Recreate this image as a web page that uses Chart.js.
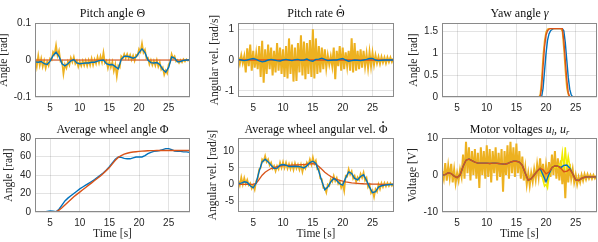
<!DOCTYPE html>
<html><head><meta charset="utf-8">
<script src="https://cdn.jsdelivr.net/npm/chart.js@4.4.1/dist/chart.umd.min.js"></script>
<style>
html,body{margin:0;padding:0;background:#fff;width:598px;height:242px;overflow:hidden;}
.p{position:absolute;}
</style></head><body>
<script>
// ---------------- DATA ----------------
const xTicks = [5, 10, 15, 20, 25];
const tFine = Array.from({length: 105}, (_, i) => 2.5 + 0.25 * i);   // 2.5 .. 28.5
const tCoarse = Array.from({length: 53}, (_, i) => 2.5 + 0.5 * i);   // 2.5 .. 28.5
const tRef = [2.5, 28.6];

// Pitch angle
const thetaRef = [0, 0];
const thetaMeas = [
  0.005, -0.018, 0.012, -0.015,
  0.004, -0.018, -0.002, -0.022,
  -0.004, -0.015, 0.004, 0.000,
  0.022, 0.015, 0.040, 0.012,
  0.025, -0.004, -0.002, -0.038,
  -0.012, -0.022, -0.004, -0.014,
  0.006, -0.006, 0.008, -0.010,
  -0.002, -0.018, -0.004, -0.016,
  -0.002, -0.015, -0.001, -0.016,
  0.000, -0.014, 0.004, -0.014,
  0.002, -0.010, 0.008, -0.008,
  0.010, -0.006, 0.020, -0.008,
  -0.002, -0.022, -0.004, -0.020,
  -0.005, -0.030, -0.012, -0.045,
  -0.015, -0.020, 0.010, 0.004,
  0.016, 0.005, 0.016, 0.004,
  0.014, 0.000, 0.012, -0.002,
  0.014, 0.012, 0.030, 0.022,
  0.045, 0.020, 0.028, 0.004,
  0.006, -0.012, 0.000, -0.014,
  -0.002, -0.015, 0.000, -0.018,
  -0.006, -0.026, -0.020, -0.040,
  -0.028, -0.036, -0.012, -0.006,
  0.016, 0.004, 0.010, -0.004,
  0.000, -0.008, 0.000, -0.006,
  0.002, -0.004, 0.002, -0.002,
  0.001
];
const thetaFilt = [
  -0.005, -0.006, -0.004, -0.010, -0.012, -0.003, 0.012, 0.021, 0.010, -0.010,
  -0.016, -0.010, -0.002, 0.001, -0.008, -0.010, -0.009, -0.008, -0.008, -0.006,
  -0.006, -0.003, -0.001, 0.000, -0.010, -0.013, -0.012, -0.018, -0.024, 0.002,
  0.010, 0.010, 0.008, 0.005, 0.008, 0.020, 0.030, 0.020, 0.000, -0.007,
  -0.008, -0.007, -0.012, -0.025, -0.033, -0.020, 0.008, 0.005, -0.005, -0.004,
  -0.001, 0.000, 0.000
];

// Pitch rate
const rateRef = [0, 0];
const rateMeas = [
  0.10, -0.12, 0.15, -0.10,
  0.12, -0.40, 0.38, -0.20,
  0.50, -0.35, 0.30, -0.25,
  0.20, -0.30, 0.45, -0.55,
  0.62, -0.74, 0.35, -0.45,
  0.50, -0.30, 0.40, -0.50,
  0.30, -0.40, 0.55, -0.35,
  0.40, -0.45, 0.35, -0.55,
  0.45, -0.60, 0.70, -0.45,
  0.50, -0.70, 0.40, -0.68,
  0.55, -0.40, 0.80, -0.50,
  0.60, -0.62, 0.55, -0.45,
  0.65, -0.55, 1.00, -0.60,
  0.70, -0.45, 0.45, -0.40,
  0.40, -0.30, 0.35, -0.25,
  0.15, -0.15, 0.12, -0.20,
  0.40, -0.62, 0.30, -0.20,
  0.45, -0.35, 0.40, -0.30,
  0.25, -0.20, 0.30, -0.35,
  0.70, -0.40, 0.55, -0.35,
  0.30, -0.30, 0.35, -0.25,
  0.30, -0.20, 0.20, -0.25,
  0.25, -0.20, 0.22, -0.15,
  0.15, -0.10, 0.10, -0.12,
  0.10, -0.08, 0.08, -0.10,
  0.08, -0.06, 0.08, -0.06,
  0.05
];
const rateFilt = [
  0.02, 0.00, -0.02, 0.00, 0.03, 0.05, 0.02, -0.03, -0.06, -0.04,
  0.00, 0.02, 0.00, -0.02, -0.03, 0.00, 0.02, 0.00, -0.02, 0.01,
  0.02, -0.01, 0.00, 0.03, -0.02, -0.04, 0.02, 0.03, 0.06, 0.02,
  -0.02, -0.01, 0.00, 0.00, 0.03, 0.05, 0.00, -0.04, -0.02, 0.00,
  -0.01, -0.02, 0.00, 0.02, 0.05, 0.05, 0.00, -0.02, -0.01, 0.00,
  0.00, 0.00, 0.00
];

// Yaw angle
const yawT    = [2.5, 18.75, 19.0, 19.25, 19.5, 19.75, 20.0, 20.25, 20.5, 20.75, 21.0, 21.25, 22.5, 22.75, 23.0, 23.25, 23.5, 23.75, 24.0, 24.25, 24.5, 24.75, 25.0, 28.6];
const yawRef  = [0, 0, 0, 0.2, 0.7, 1.15, 1.42, 1.52, 1.56, 1.57, 1.57, 1.57, 1.57, 1.57, 1.3, 0.85, 0.4, 0.1, 0, 0, 0, 0, 0, 0];
const yawMeas = [0, 0, 0.05, 0.4, 0.95, 1.3, 1.5, 1.56, 1.57, 1.57, 1.57, 1.57, 1.57, 1.5, 1.1, 0.6, 0.2, 0.05, 0, 0, 0, 0, 0, 0];
const yawFilt = [0, 0, 0, 0, 0.2, 0.6, 1.0, 1.3, 1.45, 1.52, 1.55, 1.57, 1.57, 1.57, 1.52, 1.25, 0.85, 0.45, 0.18, 0.05, 0, 0, 0, 0];

// Average wheel angle
const phiFilt = [
  0, 0, 0, 0, 0.5, 1.0, 0.8, 0.3, 3.0, 7.5,
  12, 15, 17.5, 20, 22.5, 25, 27, 29, 31, 33,
  35, 37.5, 40, 42.5, 45.5, 49, 53, 57, 59.5, 59,
  58, 57.5, 57.5, 58.5, 59.5, 59.5, 59.5, 61, 63, 64.5,
  65.5, 66, 66.5, 67.5, 68.5, 68.5, 67.5, 66, 65.5, 65.5,
  65, 65, 64.5
];
const phiRef = [
  0, 0, 0, 0, 0, 0, 0, 0.2, 2.0, 4.5,
  7.5, 10.5, 13.5, 16.5, 19, 21.5, 24, 26.5, 29, 31.5,
  34, 36.5, 39, 42, 45, 48, 52, 56, 59, 61,
  62.5, 63.5, 64.3, 64.8, 65.2, 65.5, 65.8, 66, 66.2, 66.3,
  66.4, 66.5, 66.5, 66.5, 66.5, 66.5, 66.5, 66.5, 66.5, 66.5,
  66.5, 66.5, 66.5
];

// Average wheel angular velocity
const dphiFilt = [
  0.3, 0.4, 0.8, 0.6, -0.4, -1.0, 0.5, 4.0, 6.8, 7.6,
  6.8, 5.8, 4.8, 4.9, 5.8, 6.0, 5.8, 5.4, 5.4, 5.5,
  5.4, 5.3, 5.0, 5.6, 6.6, 7.0, 6.3, 4.0, 1.0, -1.6,
  -0.8, 0.8, 1.8, 1.2, 0.2, -0.2, 2.0, 3.8, 3.3, 1.8,
  1.4, 2.4, 2.9, 1.2, -0.8, -2.5, -2.2, -0.8, -0.4, -0.2,
  -0.1, 0.0, 0.0
];
const dphiRef = [
  0, 0, 0, 0, 0, 0, 0.3, 1.5, 2.8, 3.7,
  4.3, 4.8, 5.1, 5.4, 5.55, 5.65, 5.72, 5.78, 5.82, 5.86,
  5.9, 5.95, 6.0, 6.1, 6.2, 6.3, 6.1, 5.4, 4.6, 3.7,
  3.0, 2.4, 1.9, 1.5, 1.2, 1.0, 0.8, 0.65, 0.5, 0.42,
  0.35, 0.28, 0.22, 0.18, 0.14, 0.11, 0.09, 0.07, 0.05, 0.04,
  0.03, 0.02, 0.02
];
const dphiMeas = [
  1.2, -0.3, 2.2, 0.0,
  2.0, 0.2, 1.4, -0.2,
  0.4, -1.2, -0.2, -1.6,
  1.0, 1.8, 4.6, 5.0,
  7.6, 7.0, 8.6, 6.8,
  7.6, 5.8, 6.6, 4.8,
  5.6, 4.0, 5.6, 4.6,
  6.6, 5.0, 6.8, 5.0,
  6.6, 4.8, 6.2, 4.6,
  6.2, 4.4, 6.4, 4.8,
  6.0, 4.4, 6.0, 3.8,
  5.8, 4.8, 6.6, 5.8,
  7.6, 6.0, 8.2, 6.2,
  7.2, 4.6, 4.8, 1.8,
  1.6, -1.0, -1.0, -2.4,
  0.0, -0.4, 1.6, 0.8,
  2.6, 1.0, 2.0, 0.2,
  1.0, -1.0, 0.2, -2.0,
  2.6, 2.4, 4.6, 3.0,
  4.0, 1.8, 2.6, 0.8,
  2.2, 1.4, 3.2, 2.0,
  3.6, 1.2, 2.0, -0.8,
  0.0, -2.6, -1.8, -3.8,
  -1.4, -2.2, 0.0, -1.4,
  0.4, -0.8, 0.5, -0.6,
  0.5, -0.5, 0.4, -0.4,
  0.3
];

// Motor voltages
const uRFilt = [
  0.0, 0.1, 0.6, 0.4, -0.3, -0.7, 0.0, 2.3, 4.0, 4.3,
  3.9, 3.5, 3.2, 3.2, 3.2, 3.2, 3.1, 3.2, 3.2, 3.1,
  3.0, 2.9, 3.1, 3.5, 3.7, 3.7, 3.5, 2.6, 0.5, -1.4,
  -1.0, 0.0, 1.0, 1.8, 1.4, 0.3, 0.8, 2.0, 2.5, 2.4,
  1.8, 0.9, 1.0, 1.6, 0.3, -1.3, -1.5, -0.9, -0.6, -0.5,
  -0.5, -0.5, -0.5
];
const uLFilt = [
  0.0, 0.1, 0.6, 0.4, -0.3, -0.7, 0.0, 2.3, 4.0, 4.3,
  3.9, 3.5, 3.2, 3.2, 3.2, 3.2, 3.1, 3.2, 3.2, 3.1,
  3.0, 2.9, 3.1, 3.5, 3.7, 3.7, 3.5, 2.6, 0.5, -1.4,
  -1.0, 0.0, 1.0, 1.8, 0.0, -1.8, 0.2, 2.0, 2.5, 2.4,
  2.0, 2.6, 2.7, 1.9, 0.3, -1.3, -1.5, -0.9, -0.6, -0.5,
  -0.5, -0.5, -0.5
];
const uLRaw = [
  1.0, -1.0, 3.2, -1.5,
  2.5, -0.8, 3.0, -2.0,
  1.5, -2.2, 0.5, -1.5,
  1.5, -0.5, 5.5, -1.0,
  9.0, 0.5, 7.5, -1.5,
  6.5, 0.0, 7.0, -1.0,
  6.0, -3.5, 7.5, 0.0,
  6.5, -1.0, 8.0, -0.5,
  7.0, -2.0, 6.5, 0.5,
  7.5, -1.5, 6.0, -0.5,
  7.0, -4.5, 6.5, 0.0,
  8.0, -1.0, 9.0, 0.5,
  7.5, -0.5, 8.5, 0.5,
  6.5, -1.0, 5.0, -1.5,
  2.0, -2.5, 0.5, -2.8,
  0.5, -1.8, 1.5, -1.2,
  2.8, -0.5, 4.5, -0.5,
  3.0, -2.0, 2.5, -1.0,
  3.5, -0.5, 5.5, 0.0,
  6.5, -1.0, 4.5, -1.5,
  4.0, -2.5, 3.0, -6.3,
  3.5, -2.0, 3.0, -1.0,
  1.5, -2.0, 0.0, -2.5,
  -0.5, -2.0, 0.0, -1.5,
  0.2, -1.2, 0.2, -1.0,
  0.0, -1.0, 0.0, -0.9,
  -0.2
];
const uRRawT = [19.0, 19.25, 19.5, 19.75, 20.0, 20.25, 20.5, 20.75, 21.0, 21.25, 21.5, 21.75, 22.0, 22.25, 22.5, 22.75, 23.0, 23.25, 23.5, 23.75, 24.0, 24.25, 24.5];
const uRRaw  = [1.0, 0.0, -1.5, -3.0, -2.5, -3.5, -0.5, 1.0, 2.0, 2.5, 2.0, 2.5, 2.0, 3.0, 2.5, 6.0, 1.5, 7.5, 2.0, 5.0, 2.5, 1.0, 0.0];

// ---------------- STYLE ----------------
const BLUE = '#0072BD', ORANGE = '#D95319', YELLOW = '#EDB120', BRIGHT = '#F0EC00';
const SANS = '"Liberation Sans", Arial, sans-serif';
const SERIF = '"Liberation Serif", "DejaVu Serif", serif';
const GRID = 'rgba(38,38,38,0.13)';
const BOX = '#8a8a8a';
const TXT = '#262626';

const pts = (t, v) => v.map((y, i) => ({x: t[i], y}));

function ds(t, v, color, width, order) {
  return {data: pts(t, v), borderColor: color, borderWidth: width, pointRadius: 0, tension: 0, order, fill: false,
          borderJoinStyle: 'miter'};
}

function drawRich(ctx, segs, cx, cy, size) {
  const f = s => (s.i ? 'italic ' : '') + (s.sub ? size * 0.7 : size) + 'px ' + SERIF;
  let w = 0;
  segs.forEach(s => { ctx.font = f(s); w += ctx.measureText(s.t).width; });
  let x = cx - w / 2;
  ctx.textAlign = 'left';
  ctx.textBaseline = 'middle';
  segs.forEach(s => {
    ctx.font = f(s);
    const sw = ctx.measureText(s.t).width;
    ctx.fillText(s.t, x, cy + (s.sub ? size * 0.28 : 0));
    if (s.dot) {
      ctx.beginPath();
      ctx.arc(x + sw / 2, cy - size * 0.62, size * 0.075, 0, Math.PI * 2);
      ctx.fill();
    }
    x += sw;
  });
}

function makeAnnot(info) {
  return {
    id: 'annot',
    afterDraw(chart) {
      const {ctx, chartArea: a} = chart;
      ctx.save();
      ctx.strokeStyle = BOX; ctx.lineWidth = 1;
      const l = Math.round(a.left) + 0.5, t = Math.round(a.top) + 0.5;
      ctx.strokeRect(l, t, Math.round(a.right) - Math.round(a.left) - 1, Math.round(a.bottom) - Math.round(a.top) - 1);
      ctx.fillStyle = '#111';
      drawRich(ctx, info.title, (a.left + a.right) / 2, info.titleY, 12);
      ctx.fillStyle = TXT;
      ctx.save();
      ctx.translate(info.ylabelX, (a.top + a.bottom) / 2);
      ctx.rotate(-Math.PI / 2);
      drawRich(ctx, [{t: info.ylabel}], 0, 0, 11.5);
      ctx.restore();
      if (info.xlabel) drawRich(ctx, [{t: info.xlabel}], (a.left + a.right) / 2, info.xlabelY, 11.5);
      ctx.restore();
    }
  };
}

function makeChart(p) {
  const div = document.createElement('div');
  div.className = 'p';
  div.style.left = p.left + 'px'; div.style.top = p.top + 'px';
  div.style.width = p.w + 'px'; div.style.height = p.h + 'px';
  const c = document.createElement('canvas');
  c.width = p.w; c.height = p.h;
  c.style.width = p.w + 'px'; c.style.height = p.h + 'px';
  div.appendChild(c);
  document.body.appendChild(div);
  const tickFont = {family: SANS, size: 10};
  new Chart(c, {
    type: 'line',
    data: {datasets: p.datasets},
    options: {
      responsive: false, animation: false, devicePixelRatio: 1,
      layout: {padding: {top: p.padTop, right: p.padRight, left: 0, bottom: 0}},
      plugins: {legend: {display: false}, tooltip: {enabled: false}, title: {display: false}},
      scales: {
        x: {
          type: 'linear', min: 2.45, max: 28.6,
          afterBuildTicks: s => { s.ticks = xTicks.map(v => ({value: v})); },
          afterFit: s => { s.height = p.xH; },
          grid: {color: GRID, drawTicks: false, lineWidth: 1},
          border: {display: false},
          ticks: {padding: 5, font: tickFont, color: TXT, maxRotation: 0, autoSkip: false, callback: v => String(v)}
        },
        y: {
          type: 'linear', min: p.ymin, max: p.ymax,
          afterBuildTicks: s => { s.ticks = p.yTicks.map(v => ({value: v})); },
          afterFit: s => { s.width = p.yW; },
          grid: {color: GRID, drawTicks: false, lineWidth: 1},
          border: {display: false},
          ticks: {padding: 4, font: tickFont, color: TXT, autoSkip: false, callback: (v) => String(v)}
        }
      }
    },
    plugins: [makeAnnot(p.info)]
  });
}

const NW = 1.7; // width of the raw (noisy) traces

// Panel 1
makeChart({left: 0, top: 0, w: 200, h: 121, padTop: 23, padRight: 10, xH: 24, yW: 35,
  ymin: -0.1, ymax: 0.1, yTicks: [-0.1, 0, 0.1],
  info: {title: [{t: 'Pitch angle Θ'}], titleY: 13.5, ylabel: 'Angle [rad]', ylabelX: 4},
  datasets: [
    ds(tFine, thetaMeas, YELLOW, NW, 3),
    ds(tRef, thetaRef, 'rgba(217,83,25,0.55)', 2, 2),
    ds(tCoarse, thetaFilt, BLUE, 1.4, 1)
  ]});
// Panel 2
makeChart({left: 200, top: 0, w: 200, h: 121, padTop: 23, padRight: 6, xH: 24, yW: 38,
  ymin: -1.2, ymax: 1.2, yTicks: [-1, 0, 1],
  info: {title: [{t: 'Pitch rate '}, {t: 'Θ', dot: true}], titleY: 13.5, ylabel: 'Angular vel. [rad/s]', ylabelX: 14.5},
  datasets: [
    ds(tFine, rateMeas, YELLOW, 2, 3),
    ds(tRef, rateRef, ORANGE, 1.3, 2),
    ds(tCoarse, rateFilt, BLUE, 1.4, 1)
  ]});
// Panel 3
makeChart({left: 400, top: 0, w: 198, h: 121, padTop: 23, padRight: 1, xH: 24, yW: 42,
  ymin: 0, ymax: 1.7, yTicks: [0, 0.5, 1, 1.5],
  info: {title: [{t: 'Yaw angle '}, {t: 'γ', i: true}], titleY: 13.5, ylabel: 'Angle [rad]', ylabelX: 14},
  datasets: [
    ds(yawT, yawFilt, BLUE, 1.4, 3),
    ds(yawT, yawMeas, YELLOW, 1.3, 2),
    ds(yawT, yawRef, ORANGE, 1.4, 1)
  ]});
// Panel 4
makeChart({left: 0, top: 121, w: 200, h: 121, padTop: 17, padRight: 10, xH: 30, yW: 35,
  ymin: 0, ymax: 80, yTicks: [0, 20, 40, 60, 80],
  info: {title: [{t: 'Average wheel angle Φ'}], titleY: 8.5, ylabel: 'Angle [rad]', ylabelX: 8.5, xlabel: 'Time [s]', xlabelY: 112.5},
  datasets: [
    ds(tCoarse, phiFilt, BLUE, 1.4, 2),
    ds(tCoarse, phiRef, ORANGE, 1.4, 1)
  ]});
// Panel 5
makeChart({left: 200, top: 121, w: 200, h: 121, padTop: 17, padRight: 6, xH: 30, yW: 38,
  ymin: -8.3, ymax: 14, yTicks: [-5, 0, 5, 10],
  info: {title: [{t: 'Average wheel angular vel. '}, {t: 'Φ', dot: true}], titleY: 8.5, ylabel: 'Angular vel. [rad/s]', ylabelX: 12.5, xlabel: 'Time [s]', xlabelY: 112.5},
  datasets: [
    ds(tFine, dphiMeas, YELLOW, NW, 3),
    ds(tCoarse, dphiRef, ORANGE, 1.3, 2),
    ds(tCoarse, dphiFilt, BLUE, 1.4, 1)
  ]});
// Panel 6
makeChart({left: 400, top: 121, w: 198, h: 121, padTop: 17, padRight: 1, xH: 30, yW: 42,
  ymin: -10, ymax: 10, yTicks: [-10, 0, 10],
  info: {title: [{t: 'Motor voltages '}, {t: 'u', i: true}, {t: 'l', i: true, sub: true}, {t: ', '}, {t: 'u', i: true}, {t: 'r', i: true, sub: true}],
         titleY: 8.5, ylabel: 'Voltage [V]', ylabelX: 12.5, xlabel: 'Time [s]', xlabelY: 112.5},
  datasets: [
    ds(tFine, uLRaw, YELLOW, 2, 4),
    ds(uRRawT, uRRaw, BRIGHT, 1.5, 3),
    ds(tCoarse, uLFilt, BLUE, 1.4, 2),
    ds(tCoarse, uRFilt, ORANGE, 1.4, 1)
  ]});
</script>
</body></html>
